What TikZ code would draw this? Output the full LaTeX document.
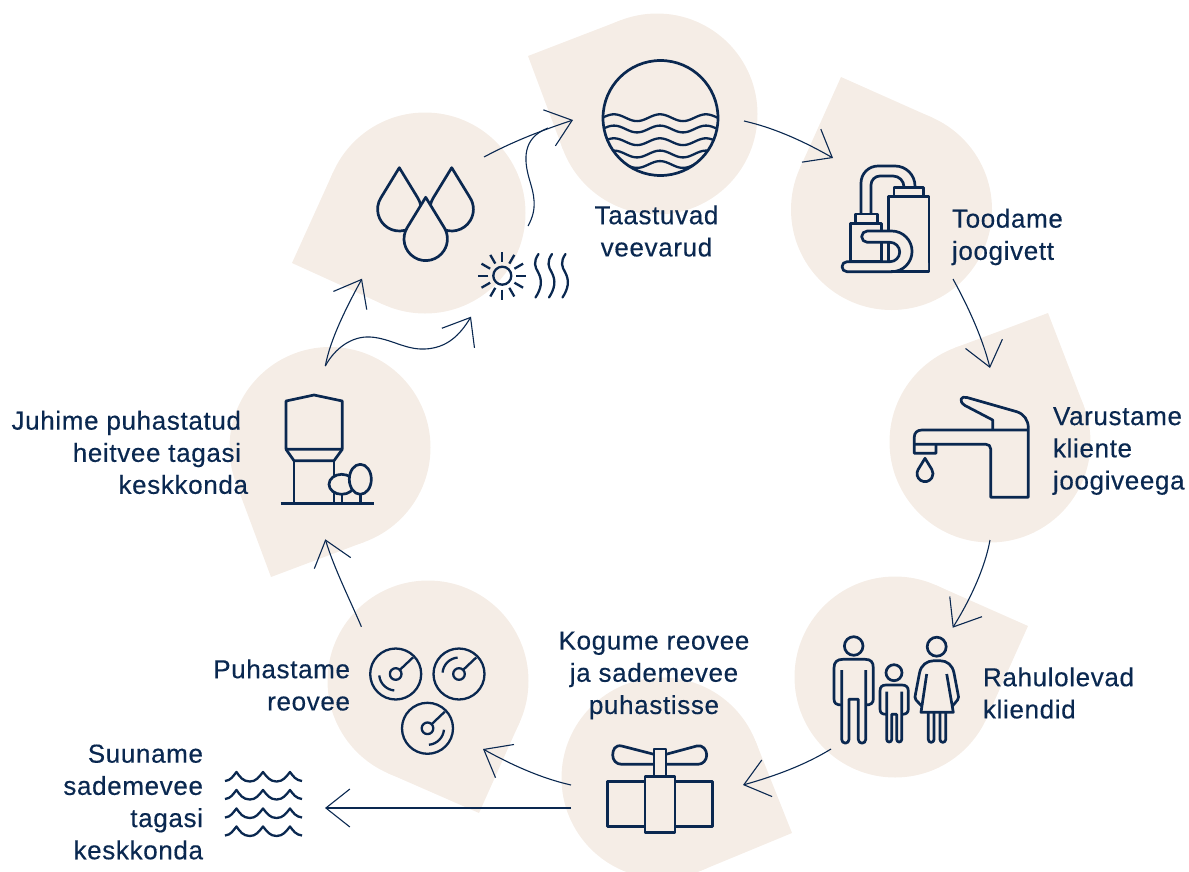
\documentclass[tikz,border=0pt]{standalone}
\usepackage{fontspec}
\setmainfont{Liberation Sans}[FakeBold=0.4,LetterSpace=2.5]
\usetikzlibrary{calc,arrows.meta}
\definecolor{dropbg}{HTML}{F5EDE6}
\definecolor{ink}{HTML}{0A2850}
\tikzset{
  dropc/.style={circle,fill=dropbg,inner sep=0pt,outer sep=0pt,minimum size=2*#1},
  icon/.style={draw=ink,line width=2.7pt,line join=round},
  thinicon/.style={draw=ink,line width=2.3pt,line join=round},
  conn/.style={draw=ink,line width=1.1pt},
  barb/.style={conn,-{Straight Barb[length=24pt,width=38pt,line width=1.1pt]}},
  lbl/.style={text=ink,inner sep=0pt,outer sep=0pt,font=\fontsize{26}{32.2}\selectfont}
}
\newcommand{\dropshape}[6]{% name cx cy r tipx tipy
  \node[dropc=#4] (#1) at (#2,#3) {};
  \coordinate (#1tip) at (#5,#6);
  \fill[dropbg] (tangent cs:node=#1,point={(#1tip)},solution=1) -- (#1tip) -- (tangent cs:node=#1,point={(#1tip)},solution=2) -- cycle;
}
\newcommand{\tear}[4]{% tipx tipy r style
  \draw[icon,#4] (#1,#2) -- ++(-.8535*#3,1.396*#3) arc[start angle=148.6,end angle=391.4,radius=#3 pt] -- cycle;
}
\newcommand{\gaugeicon}[4]{% cx cy start end
  \draw[thinicon] (#1,#2) circle[radius=25.5];
  \draw[thinicon] (#1,#2) circle[radius=5.8];
  \draw[thinicon] ({#1+4.1},{#2-4.1}) -- ({#1+17.3},{#2-16.6});
  \draw[thinicon] ({#1+16.5*cos(#3)},{#2-16.5*sin(#3)}) arc[start angle=#3,end angle=#4,radius=16.5pt];
}
\newcommand{\waverow}[1]{% peak y
  \draw[thinicon] (225,#1+9) .. controls (231,#1+8.5) and (233,#1+4) .. (236.5,#1)
    .. controls (240,#1+5) and (243,#1+9.5) .. (250,#1+9.5)
    .. controls (256,#1+9.5) and (259,#1+5) .. (263,#1)
    .. controls (267,#1+5) and (270,#1+9.5) .. (276.5,#1+9.5)
    .. controls (283,#1+9.5) and (286,#1+5) .. (290,#1)
    .. controls (293,#1+4) and (296,#1+8.5) .. (302,#1+9);
}
\newcommand{\heatline}[1]{%
  \draw[thinicon,line cap=round] (#1+1.5,254) .. controls (#1-4,262) and (#1-2,267) .. (#1+1,272)
    .. controls (#1+6,281) and (#1+4,289) .. (#1-1.5,297.5);
}
\begin{document}
\begin{tikzpicture}[x=1pt,y=-1pt]
\path[use as bounding box] (0,0) rectangle (1189,871);
\clip (0,0) rectangle (1189,871);
% teardrop backgrounds
\dropshape{dwater}{657}{114}{100.5}{528}{56}
\dropshape{ddrops}{425}{213}{100.5}{292}{263}
\dropshape{dplant}{891.5}{209.5}{100.5}{841}{77}
\dropshape{dtap}{990}{442}{100.5}{1048}{313}
\dropshape{dpeople}{895}{677}{100.5}{1028}{626}
\dropshape{dvalve}{662}{778}{100.5}{792}{833}
\dropshape{dgauge}{428}{681}{100.5}{479}{813}
\dropshape{dtower}{330}{447.5}{100.5}{271}{577}
% connector ends
\coordinate (a1s) at (484,157); \coordinate (a1e) at (573,120);
\coordinate (a2s) at (528,226); \coordinate (a2e) at (548,128);
\coordinate (a3s) at (744,121); \coordinate (a3e) at (833,158);
\coordinate (a4s) at (953,279); \coordinate (a4e) at (990,368);
\coordinate (a5s) at (990,540); \coordinate (a5e) at (952.7,627.7);
\coordinate (a6s) at (831,749); \coordinate (a6e) at (743,785);
\coordinate (a7s) at (571,785); \coordinate (a7e) at (483,749);
\coordinate (a8s) at (571,808); \coordinate (a8e) at (325,808);
\coordinate (a9s) at (361.4,626.7); \coordinate (a9e) at (325.3,539.3);
\coordinate (a10s) at (325.3,366); \coordinate (a10e) at (362,278.7);
\coordinate (a11e) at (471,316.7);
% connectors
\draw[barb] (a1s) .. controls (512,142) and (540,131) .. (a1e);
\draw[conn] (a2s) .. controls (538,208) and (534,195) .. (529,178) .. controls (524,160) and (522,138) .. (a2e);
\draw[barb] (a3s) .. controls (775,128) and (805,142) .. (a3e);
\draw[barb] (a4s) .. controls (970,310) and (983,340) .. (a4e);
\draw[barb] (a5s) .. controls (985,568) and (970,600) .. (a5e);
\draw[barb] (a6s) .. controls (805,765) and (775,776) .. (a6e);
\draw[barb] (a7s) .. controls (540,778) and (510,764) .. (a7e);
\draw[barb,line width=1.4pt] (a8s) -- (a8e);
\draw[barb] (a9s) .. controls (350,600) and (334,568) .. (a9e);
\draw[barb] (a10s) .. controls (330,340) and (346,308) .. (a10e);
\draw[barb] (a10s) .. controls (335,348) and (352,336) .. (370,337) .. controls (390,338) and (405,350) .. (425,349) .. controls (447,348) and (460,335) .. (a11e);
% water icon
\begin{scope}
  \clip (660.5,118) circle[radius=57.5];
  \foreach \yy in {117.7,129,141.7,154,164.5}{
    \draw[thinicon] plot[domain=600:722,samples=70,smooth] (\x,{\yy-3.4*cos((\x-660)/46*360)});
  }
\end{scope}
\draw[icon] (660.5,118) circle[radius=57.5];
% drops
\tear{399.3}{167.7}{21.7}{}
\tear{451.7}{167.7}{21.7}{}
\tear{425.7}{197.3}{21.7}{fill=dropbg}
% sun
\draw[thinicon] (502.3,275.7) circle[radius=9];
\foreach \a in {0,30,...,330}{
  \draw[thinicon] ({502.3+14*cos(\a)},{275.7+14*sin(\a)}) -- ({502.3+24*cos(\a)},{275.7+24*sin(\a)});
}
\heatline{537}
\heatline{550.5}
\heatline{564}
% plant icon
\draw[icon] (888.3,196.7) rectangle (929,271.7);
\draw[icon] (894,187.3) rectangle (923.3,196.7);
\draw[icon,fill=dropbg] (850.7,223.3) rectangle (881.7,261.7);
\draw[icon] (855.7,214) rectangle (877.3,223.3);
\draw[icon] (861,214) -- (861,183) arc[start angle=180,end angle=90,radius=17pt] -- (895,166) arc[start angle=90,end angle=0,radius=20pt];
\draw[icon] (871,214) -- (871,185) arc[start angle=180,end angle=90,radius=9pt] -- (893,176) arc[start angle=90,end angle=0,radius=11pt];
\fill[dropbg] (867,232) rectangle (892,241) (882,260) rectangle (892,270.5) (860,262.8) rectangle (928,270.4);
\draw[icon,fill=dropbg] (867.3,231) -- (891.7,231) arc[start angle=90,end angle=-90,radius=20.35pt] -- (847,271.7) arc[start angle=270,end angle=90,radius=5pt] -- (890,261.7) arc[start angle=-90,end angle=90,radius=9.7pt] -- (867.3,242.3) arc[start angle=270,end angle=90,radius=5.65pt] -- cycle;
\draw[icon] (881.7,242.3) -- (881.7,261.7) (888.3,242.3) -- (888.3,261.7);
\draw[icon] (891,271.7) -- (929,271.7);
% tap icon
\draw[icon] (992.7,430) -- (992.7,420) -- (965,405.5) .. controls (958,401) and (961,395.5) .. (967,397.5) -- (1016.7,411.7) .. controls (1024,414) and (1028.3,420) .. (1028.3,428) -- (1028.3,497.3) -- (990.7,497.3) -- (990.7,449) .. controls (990.7,446) and (988.7,444.3) .. (986,444.3) -- (914.3,444.3);
\draw[icon] (1028.3,430) -- (922,430) .. controls (917,430) and (914.3,433) .. (914.3,437) -- (914.3,453.3) -- (936,453.3) -- (936,444.3);
\tear{925}{458.3}{8}{}
% people: man
\draw[icon] (853.7,646) circle[radius=9.3];
\draw[icon] (841.7,670) -- (841.7,739.5) arc[start angle=180,end angle=360,radius=3.65pt] -- (849,699.3) -- (858.3,699.3) -- (858.3,739.5) arc[start angle=180,end angle=360,radius=3.7pt] -- (865.7,670);
\draw[icon] (841.7,705) .. controls (836,705) and (834,703) .. (834,699) -- (834,668) .. controls (834,662) and (837,659.3) .. (843,659.3) -- (865,659.3) .. controls (871,659.3) and (873.3,662) .. (873.3,668) -- (873.3,699) .. controls (873.3,703) and (871,705) .. (865.7,705);
% child
\draw[icon] (894,672.7) circle[radius=8];
\draw[icon] (886.7,691.7) -- (886.7,739.5) arc[start angle=180,end angle=360,radius=2.5pt] -- (891.7,714.3) -- (896.7,714.3) -- (896.7,739.5) arc[start angle=180,end angle=360,radius=2.5pt] -- (901.7,691.7);
\draw[icon] (886.7,714.3) .. controls (882,714.3) and (880,713) .. (880,709) -- (880,691) .. controls (880,687) and (882,685) .. (886,685) -- (902,685) .. controls (906,685) and (908.3,687) .. (908.3,691) -- (908.3,709) .. controls (908.3,713) and (906,714.3) .. (901.7,714.3);
% woman
\draw[icon] (936.7,646.7) circle[radius=9.5];
\draw[icon] (926.7,674) -- (921,712.3) -- (953.3,712.3) -- (946.7,674);
\draw[icon] (921.7,706) -- (916,700) .. controls (914.5,698) and (915,696) .. (915.5,694) -- (919.5,673) .. controls (921,665) and (927,660.7) .. (934,660.7) -- (940,660.7) .. controls (947,660.7) and (952.5,665) .. (954,673) -- (958,694) .. controls (958.5,696) and (959,698) .. (957.5,700) -- (952.5,706);
\draw[icon] (928.3,712.3) -- (928.3,739.5) arc[start angle=180,end angle=360,radius=2.85pt] -- (934,712.3) (940,712.3) -- (940,739.5) arc[start angle=180,end angle=360,radius=2.85pt] -- (945.7,712.3);
% valve
\draw[icon] (654,754.3) -- (621.7,746) .. controls (615,744.5) and (612.7,750) .. (612.7,755) .. controls (612.7,760) and (616,764.3) .. (621.7,764.3) -- (654,764.3);
\draw[icon] (666,754.3) -- (696.7,746) .. controls (703,744.5) and (706.7,750) .. (706.7,755) .. controls (706.7,760) and (703,764.3) .. (698,764.3) -- (666,764.3);
\draw[icon] (654,749) rectangle (666,776.7);
\draw[icon] (607.7,781.7) rectangle (712.3,826.7);
\draw[icon,fill=dropbg] (645,776.7) rectangle (675,832.3);
% gauges
\gaugeicon{395.7}{674}{185}{265}
\gaugeicon{459}{674}{175}{95}
\gaugeicon{427.5}{728.3}{-5}{-85}
% waves
\waverow{772}
\waverow{790}
\waverow{808.5}
\waverow{826.5}
% tower
\draw[icon] (286,449.3) -- (286,401) -- (314,395) -- (342.3,401) -- (342.3,449.3) -- cycle;
\draw[icon] (286,449.3) -- (294,460.7) -- (334,460.7) -- (342.3,449.3);
\draw[icon] (294,460.7) -- (294,503.3);
\draw[icon] (334,460.7) -- (334,503.3);
\draw[icon] (280.7,503.3) -- (374.3,503.3);
\draw[icon] (342,494) -- (342,503.3) (360.3,494) -- (360.3,503.3);
\draw[icon,fill=dropbg] (341.7,484.3) ellipse[x radius=12.7,y radius=10];
\draw[icon,fill=dropbg] (360.3,479.3) ellipse[x radius=11,y radius=15];
% labels
\node[lbl,align=center] (t1) at (656.5,231) {Taastuvad\\veevarud};
\node[lbl,align=left,anchor=west] (t2) at (952,237) {Toodame\\joogivett};
\node[lbl,align=left,anchor=west] (t3) at (1053,451) {Varustame\\kliente\\joogiveega};
\node[lbl,align=left,anchor=west] (t4) at (983,693) {Rahulolevad\\kliendid};
\node[lbl,align=center] (t5) at (654,675.5) {Kogume reovee\\ja sademevee\\puhastisse};
\node[lbl,align=right,anchor=east] (t6) at (350,685) {Puhastame\\reovee};
\node[lbl,align=right,anchor=east] (t7) at (203,802) {Suuname\\sademevee\\tagasi\\keskkonda};
\node[lbl,align=right,anchor=east] (t8) at (241,439) {Juhime puhastatud\\heitvee tagasi};
\node[lbl,anchor=east] (t8b) at (248,484.5) {keskkonda};
\end{tikzpicture}
\end{document}
